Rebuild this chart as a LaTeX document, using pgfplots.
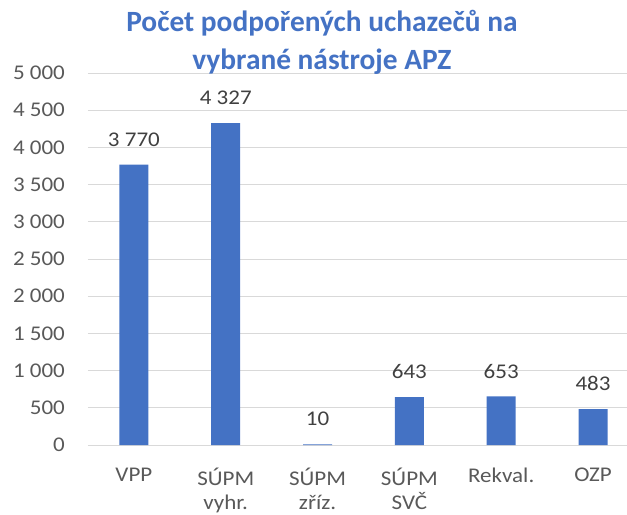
\documentclass[border=0pt]{standalone}
\usepackage{pgfplots}
\pgfplotsset{compat=1.18}
\usepackage{fontspec}
\setmainfont[FakeStretch=1.1]{Carlito}
\newfontfamily\titlefont{Carlito}
\definecolor{barblue}{HTML}{4472C4}
\definecolor{gridgray}{HTML}{D9D9D9}
\definecolor{ticktext}{HTML}{595959}
\definecolor{labeltext}{HTML}{404040}
\begin{document}
\begin{tikzpicture}
\useasboundingbox (-88bp,-70bp) rectangle (539bp,445bp);
\begin{axis}[
  scale only axis,
  width=539bp, height=372bp,
  at={(0,0)}, anchor=south west,
  xmin=-0.5, xmax=5.37,
  ymin=0, ymax=5000,
  ytick={0,500,...,5000},
  xtick={0,1,2,3,4,5},
  xticklabels={VPP,{SÚPM\\vyhr.},{SÚPM\\zříz.},{SÚPM\\SVČ},Rekval.,OZP},
  ymajorgrids,
  grid style={gridgray, line width=0.9pt},
  axis line style={draw=none},
  major tick length=0pt,
  clip=false,
  /pgf/number format/.cd, 1000 sep={\ }, assume math mode=true,
  /pgfplots/.cd,
  yticklabel style={font=\fontsize{21}{24}\selectfont, text=ticktext, inner sep=0pt, xshift=-23pt},
  xticklabel style={font=\fontsize{21}{24}\selectfont, text=ticktext, align=center, inner sep=0pt, anchor=north, yshift=-23pt},
  nodes near coords,
  every node near coord/.append style={font=\fontsize{21}{24}\selectfont, text=labeltext, inner sep=0pt, anchor=south, yshift=18pt},
  title={Počet podpořených uchazečů na\\vybrané nástroje APZ},
  title style={font=\titlefont\fontsize{29.5}{38}\selectfont\bfseries, text=barblue, align=center, at={(0.434,1)}, anchor=south, inner sep=0pt, yshift=-8pt},
]
\addplot[ybar, bar width=29bp, fill=barblue, draw=none] coordinates {
(0,3770) (1,4327) (2,10) (3,643) (4,653) (5,483)
};
\end{axis}
\end{tikzpicture}
\end{document}
